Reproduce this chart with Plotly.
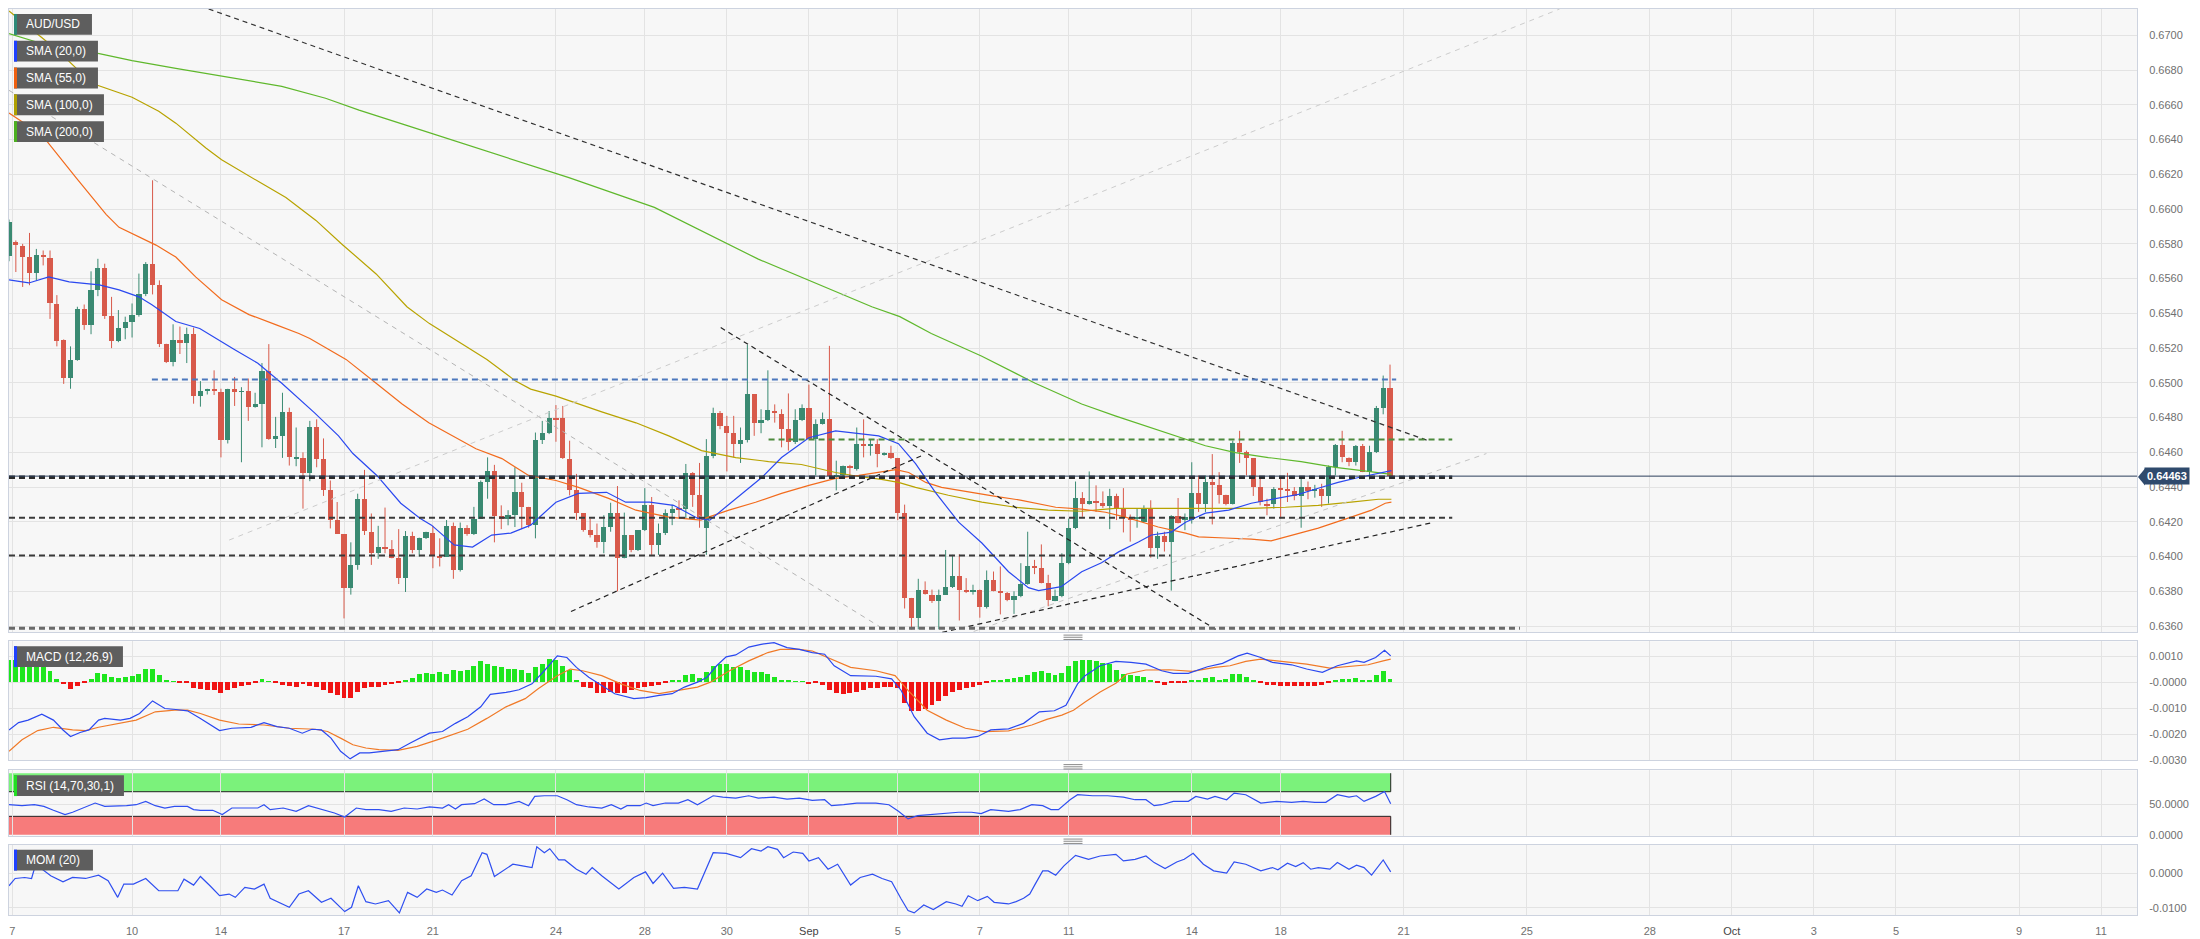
import plotly.graph_objects as go

# ---------------------------------------------------------------- data
opens = [.65733,.65813,.6579,.65724,.65632,.65737,.6572,.65453,.65246,.65029,
 .65133,.65423,.65333,.65533,.65663,.65385,.65242,.65314,.65352,.6539,
 .6551,.65686,.65562,.65223,.6512,.65244,.65232,.65284,.64924,.64956,
 .64966,.64949,.6467,.64962,.64949,.64952,.64863,.6488,.6507,.64678,
 .64693,.64834,.64562,.64568,.64482,.64747,.64562,.64385,.6421,.6413,
 .63819,.63949,.64333,.64143,.64019,.64053,.64046,.63994,.63876,.6412,
 .64038,.64105,.64135,.64006,.64,.64177,.6392,.64162,.64128,.64219,
 .64432,.6449,.64234,.64215,.64238,.64371,.64286,.64181,.64672,.64714,
 .64796,.64796,.64562,.64385,.64248,.64152,.64124,.64082,.64171,.64253,
 .6399,.64124,.64038,.64152,.64295,.64067,.64133,.64248,.64276,.64272,
 .6448,.64356,.64166,.64581,.64829,.64752,.6471,.64648,.6467,.64933,
 .64771,.64785,.64838,.64823,.64733,.64657,.64785,.64857,.64676,.64766,
 .6479,.64463,.64467,.6452,.64505,.64648,.64642,.64648,.6459,.64594,
 .64568,.64253,.63762,.63648,.6381,.63781,.63743,.63781,.63823,.63891,
 .6381,.63794,.6381,.63709,.63865,.63804,.6379,.63752,.63771,.63842,
 .63943,.63937,.63846,.63747,.63771,.63962,.64166,.64337,.64305,.64318,
 .6431,.6429,.64349,.6428,.64223,.64219,.642,.64276,.64048,.64118,
 .64086,.64232,.6421,.6421,.64368,.64305,.64429,.6441,.64356,.64305,
 .64653,.64604,.64566,.644,.64305,.64305,.64394,.6439,.64375,.64349,
 .644,.64375,.6439,.64349,.64514,.64642,.64566,.64547,.64634,.64486,
 .646,.64853,.64971]
highs = [.6594,.6582,.6580,.65863,.65771,.65762,.65762,.65505,.6525,.6521,
 .65438,.65451,.65642,.65714,.65686,.65495,.65419,.65381,.65457,.65629,
 .65695,.66166,.6559,.65225,.65337,.65324,.65318,.65318,.6501,.64966,
 .65072,.64966,.64966,.65034,.64975,.65025,.64943,.65114,.65223,.64804,
 .64943,.64857,.64743,.646,.64781,.6479,.6468,.64438,.64314,.6413,
 .64082,.64362,.64499,.64248,.64177,.64282,.64095,.64158,.64147,.64143,
 .64109,.64143,.64177,.64105,.6421,.64196,.64196,.64181,.64286,.64438,
 .64571,.64528,.64295,.64267,.64514,.64425,.64286,.64714,.64781,.64838,
 .64872,.64867,.64667,.64476,.64248,.64219,.6419,.64238,.6431,.64406,
 .64253,.64124,.64152,.64394,.64343,.6419,.64272,.64299,.64324,.64533,
 .64486,.64539,.64676,.64857,.64838,.6481,.6481,.64743,.65219,.64933,
 .64848,.65072,.64876,.64848,.64939,.64848,.64876,.6499,.6479,.64829,
 .65213,.64552,.64524,.64528,.64743,.6479,.64676,.64676,.646,.64638,
 .64568,.64299,.63762,.63872,.63857,.6381,.6381,.64038,.6401,.64013,
 .63876,.63838,.6381,.6392,.63914,.63943,.63796,.638,.63962,.64143,
 .63981,.6407,.63895,.6381,.64019,.64219,.64432,.64371,.6449,.6441,
 .64375,.6439,.64362,.64394,.64242,.64276,.64295,.64324,.64143,.64143,
 .64238,.64337,.64248,.64543,.64467,.64467,.6459,.64486,.64356,.64667,
 .64724,.6461,.64566,.64457,.64333,.644,.64448,.64482,.644,.64448,
 .64432,.64413,.64419,.64524,.64648,.64724,.64571,.64642,.64648,.64638,
 .64867,.65042,.65105]
lows = [.6570,.65638,.65552,.65562,.6559,.65676,.65368,.6521,.64994,.64966,
 .65127,.65305,.6528,.65499,.65368,.652,.65234,.65251,.65261,.65381,
 .65499,.65509,.65206,.65114,.65095,.65166,.65114,.6488,.64863,.64933,
 .6493,.64571,.64651,.64867,.64543,.64781,.64857,.64629,.64672,.64625,
 .64568,.64524,.6452,.64276,.64434,.64514,.64349,.64162,.6413,.63644,
 .63781,.63924,.64124,.63952,.63987,.64019,.6399,.63842,.63796,.64019,
 .64,.64101,.63933,.63943,.64,.63872,.63914,.6412,.64124,.64219,
 .64333,.64082,.64158,.6418,.6417,.64158,.64166,.64105,.64648,.64705,
 .64661,.64562,.64352,.6421,.64143,.6411,.64051,.64019,.64143,.638,
 .6399,.64025,.64032,.64147,.6401,.6401,.64124,.64181,.64219,.64219,
 .64286,.64166,.6401,.64566,.64733,.6449,.64571,.64539,.64657,.64695,
 .6471,.6478,.64771,.64629,.6461,.64648,.6478,.64676,.64467,.6476,
 .64457,.64381,.64463,.64448,.64495,.64571,.64581,.64514,.64581,.64562,
 .6421,.63701,.63581,.63581,.63781,.63733,.63581,.63781,.63819,.63632,
 .6379,.63781,.63648,.63701,.638,.63667,.63743,.6367,.63766,.63838,
 .63899,.63846,.63714,.63743,.63766,.63956,.64158,.64229,.64299,.64257,
 .6428,.64158,.6421,.64139,.64086,.64166,.64196,.63994,.63987,.64029,
 .63804,.64191,.64152,.6419,.64257,.64257,.64185,.64305,.64295,.643,
 .64539,.64467,.64349,.64295,.64238,.64276,.64219,.64314,.64324,.64166,
 .6433,.64339,.64286,.64305,.64467,.64543,.6452,.64524,.64486,.64444,
 .64596,.64819,.64463]
closes = [.65924,.65794,.65724,.65632,.65737,.65724,.65457,.65242,.65029,.65133,
 .65423,.65333,.65533,.65663,.65385,.65242,.65314,.65352,.6539,.6551,
 .65686,.65566,.65225,.6512,.65244,.65232,.65284,.64924,.64956,.64966,
 .64952,.6467,.64962,.64949,.64952,.64863,.6488,.6507,.64676,.64693,
 .64834,.64575,.64571,.64482,.64747,.64562,.64385,.6421,.6413,.63819,
 .63949,.64333,.64147,.64019,.64053,.64046,.63994,.63876,.6412,.64038,
 .64105,.64139,.64006,.63994,.64177,.6392,.64162,.64128,.64219,.64432,
 .6449,.64234,.64215,.64238,.64371,.64286,.64181,.64672,.64714,.64796,
 .6479,.64566,.64385,.64248,.64152,.64124,.64082,.64171,.64253,.6399,
 .64124,.64038,.64152,.64295,.64067,.64133,.64248,.64276,.64272,.6448,
 .64356,.64219,.64581,.64829,.64752,.6471,.64648,.6467,.64933,.64771,
 .64785,.64842,.64825,.64737,.64657,.64785,.64857,.64676,.64766,.6479,
 .64463,.64467,.6452,.64514,.64648,.64642,.64648,.6459,.64594,.64568,
 .64253,.63762,.63648,.6381,.63785,.63743,.63781,.63823,.63891,.6381,
 .63794,.6381,.63709,.63865,.63804,.6379,.63752,.63771,.63842,.63943,
 .63937,.63846,.63752,.63771,.63962,.64166,.64337,.64305,.64318,.6431,
 .6429,.64349,.6428,.64223,.64213,.64229,.64276,.64048,.64118,.64086,
 .64232,.64196,.64229,.64368,.64305,.64429,.6441,.64356,.64305,.64653,
 .64604,.64566,.644,.64314,.64295,.6439,.64387,.64375,.64349,.644,
 .64375,.6439,.64349,.64514,.64642,.64571,.64547,.64634,.64486,.646,
 .64853,.64971,.64463]

sma20_x = [0,2.9,5.8,8.8,13.2,16.1,19.0,20.9,24.4,27.9,32.9,36.4,39.9,44.7,48.2,50.3,53.8,57.3,60.1,61.8,
 65.1,67.8,70.6,73.4,76.3,80.0,83.3,87.4,90.2,93.7,97.2,100.7,102.5,107.2,110.1,113.0,117.0,120.9,124.3,127.2,
 130.1,132.6,135.5,138.9,142.3,146.2,149.1,150.6,153.9,156.9,159.8,162.3,165.2,167.1,170.0,172.1,175.0,178.4,181.7,185.7,
 188.6,191.5,194.4,197.4,200.3,202.2]
sma20_y = [.65593,.65575,.6561,.65581,.65564,.65535,.65495,.6545,.65353,.65313,.65193,.65113,.64998,.64827,.64695,.64593,.64467,.64307,.64221,.64181,
 .64067,.64055,.64124,.64135,.64181,.64313,.64364,.6437,.64313,.64313,.64295,.64221,.6421,.64364,.64455,.6457,.64684,.64724,.64707,.64695,
 .6465,.64535,.6437,.64198,.64078,.63913,.63821,.63804,.63827,.63913,.63964,.64027,.64084,.64124,.64141,.64198,.6425,.64267,.64307,.64335,
 .64358,.64393,.64427,.64455,.64478,.64495]
sma55_x = [0,4.8,9.8,14.2,16.1,19.4,21.5,24.4,27.3,31.1,35.1,39.0,42.4,44.0,49.3,53.7,57.5,61.4,65.8,68.3,
 72.1,76.0,80.0,83.3,87.7,91.7,96.5,101.2,102.3,105.3,109.2,113.0,117.0,120.9,124.3,129.7,131.6,134.1,136.4,141.4,
 144.3,148.1,153.1,156.9,160.4,163.3,165.2,168.1,172.1,174.0,177.9,181.7,184.6,187.6,191.5,196.3,199.3,201.3,202.2]
sma55_y = [.66553,.66427,.66181,.6597,.65895,.65833,.65793,.65724,.6561,.65478,.65393,.65335,.65284,.65255,.65135,.64998,.64878,.6477,.64678,.64621,
 .64564,.64467,.64438,.64398,.64335,.64267,.64227,.6421,.64227,.64267,.64313,.64364,.6441,.6445,.64467,.64501,.64484,.64427,.64398,.64364,
 .64347,.64324,.64284,.64273,.64255,.64227,.64204,.6417,.64135,.64113,.64107,.64101,.6409,.64124,.64164,.64227,.64267,.64307,.64313]
sma100_x = [0,7.3,12.1,18.0,21.9,24.4,28.8,31.1,37.0,40.5,44.9,48.7,53.7,58.2,61.5,66.5,69.9,74.1,76.3,80.0,
 83.3,86.7,91.7,96.5,101.3,106.3,111.1,115.9,120.9,124.3,127.6,130.1,132.6,137.4,142.3,147.2,152.0,156.9,161.8,172.1,
 181.7,186.7,191.5,196.3,200.3,202.2]
sma100_y = [.67141,.66907,.66724,.66644,.66564,.66495,.66352,.66284,.66147,.66067,.65935,.65798,.65627,.65438,.65341,.65221,.65135,.6501,.64964,.64924,
 .64878,.64833,.6477,.64695,.6461,.6457,.64547,.6453,.64484,.64461,.64444,.64427,.64398,.64353,.64313,.64284,.64267,.64261,.64278,.64278,
 .64278,.64284,.64295,.64313,.6433,.6433]
sma200_x = [0,6.3,13.2,18.0,24.4,31.1,39.9,46.3,51.2,58.5,73.1,81.9,94.4,109.6,126.2,130.3,134.9,142.3,150.1,156.9,
 161.8,167.1,172.1,175.0,179.4,184.2,189.0,194.0,198.8,202.2]
sma200_y = [.6701,.66935,.66895,.66855,.6681,.66764,.66707,.66638,.6657,.66478,.66295,.66181,.6601,.65712,.65438,.65381,.65284,.65153,.64998,.64878,
 .6481,.64741,.64673,.64638,.64598,.6457,.64547,.64513,.6449,.64473]

macd_x = [0,1.4,2.8,4.8,6.5,7.9,9.0,10.4,11.7,13.1,14.0,16.3,17.7,19.1,21.0,22.8,24.4,26.1,28.0,30.8,
 32.6,35.4,37.3,39.2,41.0,42.9,44.3,45.7,47.1,48.5,49.9,51.3,52.7,55.0,56.9,58.7,61.5,63.4,65.3,67.1,
 69.0,70.4,72.7,74.6,76.5,78.3,80.2,81.6,83.0,84.8,86.7,88.6,91.4,93.2,95.1,97.0,98.8,100.7,102.1,103.5,
 104.9,106.3,108.2,110.0,111.9,113.8,115.6,117.5,119.3,120.7,123.1,126.8,129.1,130.5,132.4,134.3,136.1,138.0,139.9,141.7,
 143.6,146.2,148.4,150.7,152.9,154.6,156.3,157.4,159.6,161.9,164.1,166.3,168.6,170.3,172.5,175.3,177.5,179.8,181.1,183.1,
 184.8,187.6,189.8,192.1,194.3,197.1,198.2,199.9,201.2,202.1]
macd_y = [-0.001833,-0.001553,-0.001455,-0.001227,-0.001455,-0.001833,-0.002083,-0.001932,-0.001833,-0.001455,
 -0.00139,-0.001455,-0.00139,-0.001201,-0.00072,-0.001011,-0.001049,-0.001098,-0.00139,-0.001856,
 -0.001769,-0.001731,-0.001553,-0.001705,-0.001769,-0.001958,-0.001807,-0.001833,-0.002148,-0.002652,
 -0.002943,-0.002716,-0.002716,-0.002652,-0.002591,-0.002337,-0.001958,-0.001894,-0.00158,-0.001326,
 -0.000947,-0.00047,-0.000394,-0.000292,-0.000064,0.000439,0.001008,0.000947,0.000568,0.000189,
 -0.000129,-0.000443,-0.000633,-0.000595,-0.000508,-0.000443,-0.000189,0.0,0.000189,0.000629,
 0.00097,0.001045,0.001348,0.001451,0.001515,0.001326,0.001261,0.001136,0.001072,0.000629,
 0.00025,0.000227,0.000125,-0.000318,-0.001326,-0.001958,-0.002212,-0.002148,-0.002148,-0.002083,
 -0.001833,-0.00179,-0.00158,-0.001136,-0.001098,-0.000886,-0.000064,0.00025,0.000629,0.000795,
 0.000758,0.000693,0.000439,0.000341,0.000341,0.000591,0.00072,0.001008,0.00111,0.000947,
 0.000758,0.000667,0.000504,0.000379,0.000629,0.000818,0.000758,0.000947,0.001223,0.001008]
signal_x = [0,1.9,4.2,6.5,9.3,11.2,13.1,15.9,18.6,21.4,24.2,26.1,28.0,30.8,33.6,37.3,41.0,44.8,46.6,48.5,
 50.3,52.2,54.1,56.9,59.7,63.4,67.1,69.9,72.7,75.5,77.4,80.2,82.1,83.9,86.7,89.5,92.3,95.1,97.9,100.7,
 102.6,105.4,108.2,111.0,112.8,115.6,117.5,120.3,123.1,126.8,129.6,131.5,134.3,137.1,139.9,142.7,146.2,
 149.6,151.8,154.0,155.7,157.4,159.6,161.9,163.5,166.3,169.7,173.1,176.4,178.6,180.9,183.1,186.5,189.8,193.2,195.4,198.8,
 201.0,202.1]
signal_y = [-0.002652,-0.002212,-0.001856,-0.001731,-0.001833,-0.001856,-0.001731,-0.00158,-0.001455,-0.001136,
 -0.001076,-0.001076,-0.001201,-0.001455,-0.001606,-0.001644,-0.001769,-0.001807,-0.001894,-0.002148,
 -0.002402,-0.002527,-0.002591,-0.002614,-0.002462,-0.002148,-0.001807,-0.00139,-0.000947,-0.000633,
 -0.000254,0.00025,0.000504,0.000439,0.00025,-0.000064,-0.000318,-0.000443,-0.000318,-0.000189,
 0.0,0.000439,0.000818,0.001136,0.001261,0.001261,0.001197,0.000883,0.000568,0.000439,
 0.00025,-0.000318,-0.001076,-0.001455,-0.001769,-0.001894,-0.00187,
 -0.001644,-0.001428,-0.001265,-0.001076,-0.000758,-0.000379,-0.000038,0.000314,0.000466,0.000477,
 0.000417,0.000568,0.000629,0.000795,0.000883,0.000795,0.000693,0.000542,0.000591,0.000667,
 0.000818,0.000883]
macd_hist = [0.00085,0.00085,0.0008,0.0008,0.00075,0.00068,0.0004,0.00013,
 -0.00009,-0.00029,-0.00016,-0.00006,
 0.00013,0.00034,0.00029,0.00019,0.00016,0.00019,0.00021,0.00032,0.0005,0.0005,0.00025,0.00006,
 0.00002,-0.00002,-0.00003,
 -0.00025,-0.00029,-0.00032,-0.00032,-0.00044,-0.00032,-0.00025,-0.00016,-0.0001,-0.00006,
 0.00013,0.00002,-0.00003,
 -0.0001,-0.00016,-0.00019,-0.00009,-0.00016,-0.00019,-0.00032,-0.00044,-0.0005,-0.00063,-0.00063,-0.00038,-0.00025,-0.00021,-0.00019,-0.00013,-0.00009,-0.00006,
 0.00009,0.00016,0.00032,0.00034,0.00032,0.00038,0.00032,0.00044,0.00042,0.00047,0.00063,0.00082,0.00069,0.00063,0.00057,0.0005,0.0005,0.00044,0.00034,0.00057,0.00067,0.00088,0.00085,0.00063,0.00044,0.00009,
 -0.00019,-0.00025,-0.00042,-0.00042,-0.00038,-0.00044,-0.00042,-0.00032,-0.00025,-0.00019,-0.00016,-0.00013,-0.00006,
 0.00004,0.00009,0.00025,0.00029,0.00016,0.00038,0.00063,0.00069,0.00067,0.00059,0.00057,0.00047,0.00038,0.00038,0.00032,0.00019,0.00009,0.00004,0.00001,0.00001,
 -0.00009,-0.00006,-0.00013,-0.00032,-0.00044,-0.00047,-0.00042,-0.00038,-0.00032,-0.00025,-0.00025,-0.00021,-0.00021,-0.00025,-0.00082,-0.0011,-0.0011,-0.00105,-0.00088,-0.00072,-0.00054,-0.00038,-0.00032,-0.00025,-0.00019,-0.00013,-0.00006,
 0.00004,0.00009,
 0.00013,0.00016,0.00019,0.00025,0.00038,0.00042,0.00034,0.00025,0.00034,0.00063,0.0008,0.00085,0.00085,0.00082,0.00072,0.00067,0.00044,0.00032,0.00025,0.00021,0.00019,0.00004,
 -0.00006,-0.00013,-0.00006,-0.00004,-0.00004,
 0.00004,0.00009,0.00016,0.00019,0.00009,0.00013,0.00029,0.00032,0.00019,0.00006,
 -0.00002,-0.00013,-0.00013,-0.00014,-0.00016,-0.00016,-0.00016,-0.00016,-0.00015,-0.00013,-0.00006,
 0.00009,0.00013,0.00013,0.00016,0.00004,0.00009,0.00025,0.00042,0.00013]

rsi_x = [0,1.9,3.7,5.1,6.5,8.2,9.3,10.7,12.6,14.0,15.4,17.2,18.6,20.0,21.4,22.8,24.2,26.1,27.0,28.0,
 29.8,31.2,32.6,34.5,36.4,37.3,38.2,40.1,42.0,43.8,45.7,47.6,49.1,50.8,52.2,54.1,55.9,57.8,59.7,61.5,
 63.4,64.3,65.3,66.2,68.1,69.5,70.9,72.7,74.6,76.0,76.9,78.3,80.2,81.6,83.0,84.8,86.7,88.1,89.5,90.4,
 92.3,93.2,94.2,96.0,97.9,99.3,100.7,101.6,103.0,104.4,106.3,108.2,109.6,111.9,113.8,115.6,117.5,119.3,120.3,122.1,
 124.0,126.8,128.7,130.1,131.5,132.9,134.7,137.1,138.9,140.8,142.2,143.6,
 146.2,147.9,149.6,151.2,152.4,153.5,155.2,156.3,158.5,160.7,163.0,164.7,166.3,167.5,168.6,170.3,172.5,173.6,175.3,176.4,
 178.1,179.2,180.9,183.1,185.4,187.6,189.3,191.0,192.6,194.3,196.0,197.1,198.2,199.9,201.2,202.1]
rsi_y = [48.9,47.3,48.9,46.2,39.8,32.8,36.6,43.5,51.6,46.2,46.2,47.3,48.9,54.3,47.3,43.5,46.2,46.2,40.9,39.8,
 39.8,32.8,43.5,43.5,43.5,48.9,40.9,43.5,38.2,47.3,41.9,35.5,29.0,43.5,40.9,40.9,38.2,43.5,41.9,45.2,
 43.5,48.9,41.9,48.9,50.5,58.1,48.9,48.9,54.3,47.3,62.4,63.4,63.4,57.0,48.9,45.2,43.5,48.9,41.9,47.3,
 47.3,51.6,47.3,51.6,51.6,57.0,48.9,54.3,63.4,61.3,59.7,63.4,59.7,61.3,58.1,59.7,55.9,57.0,47.3,48.9,
 51.6,51.6,48.9,38.2,25.8,31.2,32.8,35.5,36.6,36.6,34.4,40.9,
 38.2,40.9,48.9,47.3,40.9,40.9,57.0,65.1,63.4,63.4,61.3,57.0,57.0,47.3,48.9,54.3,54.3,62.4,58.1,62.4,
 57.0,67.7,65.1,51.6,54.3,52.7,54.3,52.7,52.7,65.1,61.3,63.4,54.3,62.4,70.4,50.5]

mom_x = [0,0.9,2.3,3.3,3.9,4.8,6.1,7.9,9.3,11.2,13.1,14.5,15.9,16.8,18.2,20.0,21.9,24.7,25.6,27.0,
 28.0,29.4,30.8,32.2,33.1,34.5,35.9,37.3,38.2,41.0,42.4,43.8,45.7,47.1,49.1,50.1,51.1,52.2,53.6,55.5,
 57.1,58.3,59.7,61.1,62.5,63.4,64.8,66.2,67.6,69.2,69.9,71.0,73.7,75.1,76.5,77.2,78.3,79.1,80.4,81.3,
 83.0,84.4,85.3,86.7,89.2,91.4,93.1,94.2,95.6,97.2,98.8,100.7,103.0,104.9,107.0,108.6,110.0,111.0,112.4,113.3,
 114.7,116.1,117.0,118.4,119.8,121.2,123.1,124.5,126.3,127.7,129.1,130.5,131.5,132.4,133.8,135.2,137.1,138.5,139.4,140.3,
 141.7,143.1,144.1,
 146.2,147.3,148.4,149.3,150.1,151.2,152.0,153.1,154.3,156.0,157.9,159.6,161.9,163.0,164.7,166.3,167.5,169.1,170.8,171.9,
 173.2,174.7,176.2,178.1,179.2,180.9,183.1,184.8,185.6,187.0,188.2,189.3,190.4,191.5,193.2,194.3,196.0,197.1,198.2,199.3,
 201.0,202.1]
mom_y = [-0.00355,-0.00144,-0.00115,-0.00144,0.00269,0.00125,-0.00067,-0.0024,-0.00115,-0.00144,
 -0.00048,-0.00211,-0.00692,-0.00307,-0.00307,-0.00144,-0.005,-0.005,-0.00163,-0.00336,
 -0.00086,-0.00355,-0.00644,-0.00596,-0.00692,-0.00403,-0.00451,-0.00307,-0.0072,-0.0098,
 -0.00596,-0.005,-0.00836,-0.0072,-0.01105,-0.0098,-0.00355,-0.00817,-0.00884,-0.00788,
 -0.01143,-0.00548,-0.00692,-0.00451,-0.00548,-0.0048,-0.00624,-0.00211,-0.00067,0.00605,
 0.00557,-0.00086,0.00269,0.00221,0.00173,0.00778,0.00605,0.0072,0.00394,0.00394,
 0.00125,-0.00019,0.00173,-0.00067,-0.00451,-0.00115,0.00048,-0.00288,0.0001,-0.00432,
 -0.00403,-0.00451,0.00605,0.00586,0.00461,0.0072,0.00653,0.00778,0.00701,0.00461,
 0.00624,0.00586,0.00365,0.00461,0.00125,0.00269,-0.00336,-0.00115,-0.00019,-0.00144,
 -0.0024,-0.0074,-0.01076,-0.01143,-0.00913,-0.01047,-0.00817,-0.00884,-0.00951,-0.00644,
 -0.00788,-0.00663,-0.00836,
 -0.00884,-0.00817,-0.0072,-0.00596,-0.00307,0.00077,0.00077,-0.00048,0.00221,0.00528,
 0.00413,0.00509,0.00557,0.00365,0.00413,0.00509,0.00317,0.00144,0.00336,0.00413,
 0.00586,0.00269,0.00077,0.0001,0.00336,0.00269,0.00077,0.00173,0.00106,0.00298,
 0.00202,0.00317,0.00125,0.00173,0.00125,0.00317,0.00125,0.0024,0.00173,-0.00048,
 0.00394,0.00048]

x_tick_pos = [0.5,18,31,49,62,80,93,105,117,130,142,155,173,186,204,222,240,252,264,276,294,306]
x_tick_text = ["7","10","14","17","21","24","28","30","Sep","5","7","11","14","18","21","25","28","Oct","3","5","9","11"]
price_ticks = [0.6360,0.6380,0.6400,0.6420,0.6440,0.6460,0.6480,0.6500,0.6520,0.6540,0.6560,0.6580,
               0.6600,0.6620,0.6640,0.6660,0.6680,0.6700]
macd_ticks = [0.001, 0.0, -0.001, -0.002, -0.003]
macd_tick_text = ["0.0010", "-0.0000", "-0.0010", "-0.0020", "-0.0030"]
rsi_ticks = [50, 0]
rsi_tick_text = ["50.0000", "0.0000"]
mom_ticks = [0.0, -0.01]
mom_tick_text = ["0.0000", "-0.0100"]

# drawn support / resistance levels: (price, first bar, last bar)
level_blue = (0.65019, 20.9, 202.9)
level_green = (0.64674, 111.1, 211.1)
level_pivot = (0.64457, 0, 211.1)
level_mid = (0.64223, 0, 211.1)
level_low = (0.64006, 0, 169.9)
level_floor = (0.63587, 0, 221.0)
# drawn trend lines: (bar0, price0, bar1, price1)
trend_main = (29.2, 0.67152, 207.6, 0.64667)
trend_gray_down = (0, 0.66684, 127.5, 0.63593)
trend_gray_up = (32.2, 0.64095, 226.8, 0.67152)
trend_gray_up2 = (141.1, 0.63569, 216.1, 0.64593)
chan_down = (104.1, 0.65318, 176.5, 0.63581)
chan_up = (82.2, 0.63684, 133.5, 0.64581)
chan_up2 = (136.5, 0.63564, 207.9, 0.64193)

# ---------------------------------------------------------------- style
FONT = "Arial, 'Liberation Sans', sans-serif"
PLOT_W, FIG_H = 2129, 939
INC, DEC = "#3a8a72", "#d85a4b"
C20, C55, C100, C200 = "#2a48f0", "#f26b1d", "#b8a300", "#5fb82c"
GRID = "#e3e3e3"
BORDER = "#cdd3df"
MIN_BODY = 0.00003   # keep doji bodies visible as a thin line

def px_x(p):
    return p / PLOT_W

def px_y(p):
    return 1 - p / FIG_H

n = len(closes)
bars = list(range(n))

fig = go.Figure()

# candles: wicks + bodies, split by direction
for up, col in ((True, INC), (False, DEC)):
    sel = [i for i in bars if (closes[i] >= opens[i]) == up]
    wx, wy = [], []
    for i in sel:
        wx += [i, i, None]
        wy += [lows[i], highs[i], None]
    fig.add_trace(go.Scatter(x=wx, y=wy, mode="lines", line=dict(color=col, width=1),
                             xaxis="x", yaxis="y", showlegend=False, hoverinfo="skip"))
    fig.add_trace(go.Bar(x=sel,
                         y=[max(abs(closes[i] - opens[i]), MIN_BODY) for i in sel],
                         base=[min(closes[i], opens[i]) for i in sel],
                         width=0.76, marker=dict(color=col, line=dict(width=0)),
                         xaxis="x", yaxis="y", showlegend=False, hoverinfo="skip"))

for xs, ys, col in [(sma200_x, sma200_y, C200), (sma100_x, sma100_y, C100),
                    (sma55_x, sma55_y, C55), (sma20_x, sma20_y, C20)]:
    fig.add_trace(go.Scatter(x=xs, y=ys, mode="lines", line=dict(color=col, width=1.2),
                             xaxis="x", yaxis="y", showlegend=False, hoverinfo="skip"))

# MACD
fig.add_trace(go.Bar(x=bars, y=macd_hist, width=0.72,
                     marker=dict(color=["#1ee61e" if v >= 0 else "#f01414" for v in macd_hist], line=dict(width=0)),
                     xaxis="x2", yaxis="y2", showlegend=False, hoverinfo="skip"))
fig.add_trace(go.Scatter(x=signal_x, y=signal_y, mode="lines", line=dict(color="#f07a28", width=1.2),
                         xaxis="x2", yaxis="y2", showlegend=False, hoverinfo="skip"))
fig.add_trace(go.Scatter(x=macd_x, y=macd_y, mode="lines", line=dict(color=C20, width=1.2),
                         xaxis="x2", yaxis="y2", showlegend=False, hoverinfo="skip"))
# RSI
fig.add_trace(go.Scatter(x=rsi_x, y=rsi_y, mode="lines", line=dict(color="#2f4ff0", width=1.2),
                         xaxis="x3", yaxis="y3", showlegend=False, hoverinfo="skip"))
# MOM
fig.add_trace(go.Scatter(x=mom_x, y=mom_y, mode="lines", line=dict(color="#2f4ff0", width=1.2),
                         xaxis="x4", yaxis="y4", showlegend=False, hoverinfo="skip"))

shapes = []

def hline(level, color, width, dash):
    p, a, b = level
    shapes.append(dict(type="line", xref="x", yref="y", x0=a, x1=b, y0=p, y1=p,
                       line=dict(color=color, width=width, dash=dash), layer="above"))

def tline(seg, color, width, dash):
    a, p0, b, p1 = seg
    shapes.append(dict(type="line", xref="x", yref="y", x0=a, x1=b, y0=p0, y1=p1,
                       line=dict(color=color, width=width, dash=dash), layer="above"))

tline(trend_gray_down, "#b4b4b4", 1, "5px,5px")
tline(trend_gray_up, "#cccccc", 1, "5px,5px")
tline(trend_gray_up2, "#c4c4c4", 1, "5px,5px")
tline(trend_main, "#333333", 1.2, "5px,4px")
tline(chan_down, "#222222", 1.2, "5px,4px")
tline(chan_up, "#222222", 1.2, "5px,4px")
tline(chan_up2, "#222222", 1.2, "5px,4px")
hline(level_blue, "#4d78bd", 2, "6px,4px")
hline(level_green, "#4c8a3c", 2, "6px,4px")
hline(level_mid, "#3a3a3a", 2, "6px,4px")
hline(level_low, "#3a3a3a", 2, "6px,4px")
hline(level_floor, "#6a6a6a", 3, "6px,4px")
hline(level_pivot, "#2a2a2a", 3.5, "6px,4px")
# last price line
shapes.append(dict(type="line", xref="paper", yref="y", x0=0, x1=1, y0=closes[-1], y1=closes[-1],
                   line=dict(color="#2c3f5c", width=1), layer="above"))

# RSI bands
band_end = n - 1 + 0.1
shapes.append(dict(type="rect", xref="x3", yref="y3", x0=-2, x1=band_end, y0=70, y1=100,
                   fillcolor="#7bf27b", line=dict(width=0), layer="below"))
shapes.append(dict(type="rect", xref="x3", yref="y3", x0=-2, x1=band_end, y0=0, y1=30,
                   fillcolor="#f77b7b", line=dict(width=0), layer="below"))
for yy in (70, 30):
    shapes.append(dict(type="line", xref="x3", yref="y3", x0=-2, x1=band_end, y0=yy, y1=yy,
                       line=dict(color="#222", width=1), layer="below"))
shapes.append(dict(type="line", xref="x3", yref="y3", x0=band_end, x1=band_end, y0=70, y1=100,
                   line=dict(color="#222", width=1), layer="below"))
shapes.append(dict(type="line", xref="x3", yref="y3", x0=band_end, x1=band_end, y0=0, y1=30,
                   line=dict(color="#222", width=1), layer="below"))

annotations = []

def label_box(text, stripe, top, right, height=21):
    shapes.append(dict(type="rect", xref="paper", yref="paper", x0=px_x(5), x1=px_x(right),
                       y0=px_y(top + height), y1=px_y(top), fillcolor="#5e5e5e", line=dict(width=0)))
    shapes.append(dict(type="rect", xref="paper", yref="paper", x0=px_x(5), x1=px_x(8),
                       y0=px_y(top + height), y1=px_y(top), fillcolor=stripe, line=dict(width=0)))
    annotations.append(dict(text=text, xref="paper", yref="paper", x=px_x(15), y=px_y(top + height / 2),
                            xanchor="left", yanchor="middle", showarrow=False,
                            font=dict(family=FONT, size=12, color="white")))

label_box("AUD/USD", "#2e8a78", 5, 83)
label_box("SMA (20,0)", "#1f40ff", 32, 89)
label_box("SMA (55,0)", "#f0600f", 59, 89)
label_box("SMA (100,0)", "#b0a000", 86, 95)
label_box("SMA (200,0)", "#4cb020", 113, 95)
label_box("MACD (12,26,9)", "#1f40ff", 642, 114)
label_box("RSI (14,70,30,1)", "#22dd22", 772, 115)
label_box("MOM (20)", "#1f40ff", 847, 84)

# panel handles
for yc in (633, 763.5, 838.5):
    for dy in (-2.2, 0, 2.2):
        shapes.append(dict(type="line", xref="paper", yref="paper", x0=px_x(1055), x1=px_x(1074),
                           y0=px_y(yc + dy), y1=px_y(yc + dy), line=dict(color="#8a8a8a", width=1)))

# last price tag
shapes.append(dict(type="path", xref="paper", yref="paper",
                   path=f"M {px_x(2130)} {px_y(471.5)} L {px_x(2137)} {px_y(463)} L {px_x(2137)} {px_y(480)} Z",
                   fillcolor="#2f4a6d", line=dict(width=0)))
annotations.append(dict(text=f"<b>{closes[-1]:.5f}</b>", xref="paper", yref="y", x=px_x(2136), y=closes[-1],
                        xanchor="left", yanchor="middle", showarrow=False, bgcolor="#2f4a6d",
                        borderpad=2, font=dict(family=FONT, size=11, color="white")))

xcommon = dict(range=[0, PLOT_W / 6.84], tickvals=x_tick_pos, showgrid=True,
               gridcolor=GRID, gridwidth=1, zeroline=False, showline=True, mirror=True,
               linecolor=BORDER, linewidth=1, ticks="", fixedrange=True)
ycommon = dict(side="right", showgrid=True, gridcolor=GRID, gridwidth=1, zeroline=False,
               showline=True, mirror=True, linecolor=BORDER, linewidth=1, ticks="",
               tickfont=dict(family=FONT, size=11, color="#707070"), ticklabelstandoff=9)

bottom_text = [f"<span style='color:#444'>{t}</span>" if t in ("Sep", "Oct") else t for t in x_tick_text]

fig.update_layout(
    width=2200, height=939,
    margin=dict(l=0, r=71, t=0, b=0),
    paper_bgcolor="white", plot_bgcolor="#f7f7f7",
    showlegend=False, barmode="overlay", bargap=0,
    font=dict(family=FONT),
    xaxis=dict(anchor="y", showticklabels=False, **xcommon),
    xaxis2=dict(anchor="y2", matches="x", showticklabels=False, **xcommon),
    xaxis3=dict(anchor="y3", matches="x", showticklabels=False, **xcommon),
    xaxis4=dict(anchor="y4", matches="x", showticklabels=True, ticktext=bottom_text,
                tickfont=dict(family=FONT, size=11, color="#707070"), ticklabelstandoff=6, **xcommon),
    yaxis=dict(anchor="x", domain=[px_y(628), 1.0], range=[0.63564, 0.67152],
               tickvals=price_ticks, tickformat=".4f", **ycommon),
    yaxis2=dict(anchor="x2", domain=[px_y(757), px_y(637)], range=[-0.0030, 0.00157],
                tickvals=macd_ticks, ticktext=macd_tick_text, **ycommon),
    yaxis3=dict(anchor="x3", domain=[px_y(833), px_y(767)], range=[-1.6, 104.8],
                tickvals=rsi_ticks, ticktext=rsi_tick_text, **ycommon),
    yaxis4=dict(anchor="x4", domain=[px_y(913), px_y(842)], range=[-0.0121, 0.00836],
                tickvals=mom_ticks, ticktext=mom_tick_text, **ycommon),
    shapes=shapes, annotations=annotations,
)

fig.write_html("out.html")
